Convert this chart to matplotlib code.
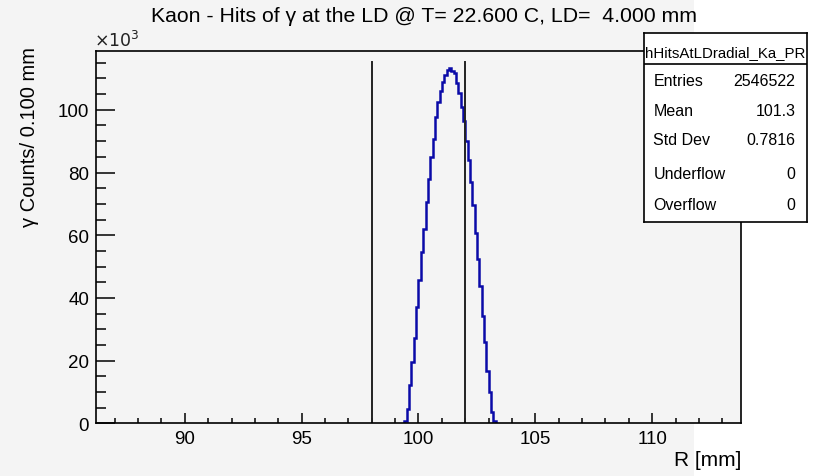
import numpy as np
import matplotlib
matplotlib.use("Agg")
import matplotlib.pyplot as plt
from matplotlib.patches import Rectangle
from matplotlib.ticker import MultipleLocator

plt.rcParams['font.family'] = ['Liberation Sans', 'DejaVu Sans']

# histogram contents (x10^3 counts), 0.1 mm bins starting at 99.4 mm
bin_start = 99.4
bin_width = 0.1
counts = [0.8, 4.5, 12.2, 19.5, 27.2, 37.0, 45.8, 54.5, 62.0, 70.5,
          77.8, 84.8, 90.7, 97.6, 102.4, 106.1, 109.0, 111.2, 112.8, 113.2,
          112.5, 111.6, 108.5, 105.3, 101.0, 96.3, 90.2, 84.0, 76.9, 69.6,
          60.7, 52.4, 43.9, 34.3, 25.8, 16.8, 9.9, 3.5, 0.85]
cut_lines = [98.0, 102.0]

title = "Kaon - Hits of γ at the LD @ T= 22.600 C, LD=  4.000 mm"
hist_name = "hHitsAtLDradial_Ka_PR"
stat_labels = ["Entries", "Mean", "Std Dev", "Underflow", "Overflow"]
stat_values = ["2546522", "101.3", "0.7816", "0", "0"]

W, H = 817, 477
bg = '#f4f4f4'
fig = plt.figure(figsize=(W / 100, H / 100), dpi=100, facecolor=bg)
# right strip of the screenshot is white
fig.patches.append(Rectangle((694 / W, 0), 1, 1, transform=fig.transFigure,
                             facecolor='white', edgecolor='none', zorder=-10))

ax = fig.add_axes([96 / W, 1 - 424.3 / H, (741 - 96) / W, (424.3 - 51.7) / H])
ax.set_facecolor(bg)

edges = np.round(bin_start + bin_width * np.arange(len(counts) + 1), 2)
ax.stairs(counts, edges, color='#0a0aa8', lw=1.8, baseline=0)

ymax = max(counts) * 1.05
for xv in cut_lines:
    ax.plot([xv, xv], [0, max(counts) * 1.018], color='#222222', lw=1.4)

ax.set_xlim(86.2, 113.8)
ax.set_ylim(0, ymax)

ax.xaxis.set_major_locator(MultipleLocator(5))
ax.xaxis.set_minor_locator(MultipleLocator(1))
ax.yaxis.set_major_locator(MultipleLocator(20))
ax.yaxis.set_minor_locator(MultipleLocator(5))
ax.tick_params(axis='x', which='major', direction='in', length=7, width=1.1,
               pad=5, labelsize=13.5)
ax.tick_params(axis='x', which='minor', direction='in', length=3.5, width=1.1)
ax.tick_params(axis='y', which='major', direction='in', length=13.5, width=1.1,
               pad=5, labelsize=13.5)
ax.tick_params(axis='y', which='minor', direction='in', length=7, width=1.1)
for s in ax.spines.values():
    s.set_linewidth(1.2)

ax.text(-0.003, 1.005, "$\\times10^{3}$", transform=ax.transAxes,
        fontsize=12.5, ha='left', va='bottom', color='#222222')

fig.text(424 / W, 1 - 17 / H, title, fontsize=15.3, ha='center', va='center')
fig.text(30 / W, 1 - 47 / H, "γ Counts/ 0.100 mm", rotation=90,
         fontsize=14.5, ha='center', va='top')
fig.text(741 / W, 1 - 461 / H, "R [mm]", fontsize=15, ha='right', va='center')

# stats box
sb = fig.add_axes([644 / W, 1 - 222.7 / H, (806.7 - 644) / W, (222.7 - 34) / H])
sb.set_facecolor('white')
sb.set_xticks([])
sb.set_yticks([])
for s in sb.spines.values():
    s.set_linewidth(1.2)
box_h = 222.7 - 34
sb.axhline(1 - 31 / box_h, color='black', lw=1.2)
sb.text(0.5, 1 - 18.7 / box_h, hist_name, transform=sb.transAxes,
        fontsize=10.8, ha='center', va='center')
row_y = [81.7, 111.7, 141.0, 174.3, 205.7]
for lab, val, yy in zip(stat_labels, stat_values, row_y):
    yf = 1 - (yy - 34) / box_h
    sb.text(9.3 / 162.7, yf, lab, transform=sb.transAxes, fontsize=11.5,
            ha='left', va='center')
    sb.text(151.3 / 162.7, yf, val, transform=sb.transAxes, fontsize=11.5,
            ha='right', va='center')

fig.savefig("out.png", dpi=100, facecolor=fig.get_facecolor())
